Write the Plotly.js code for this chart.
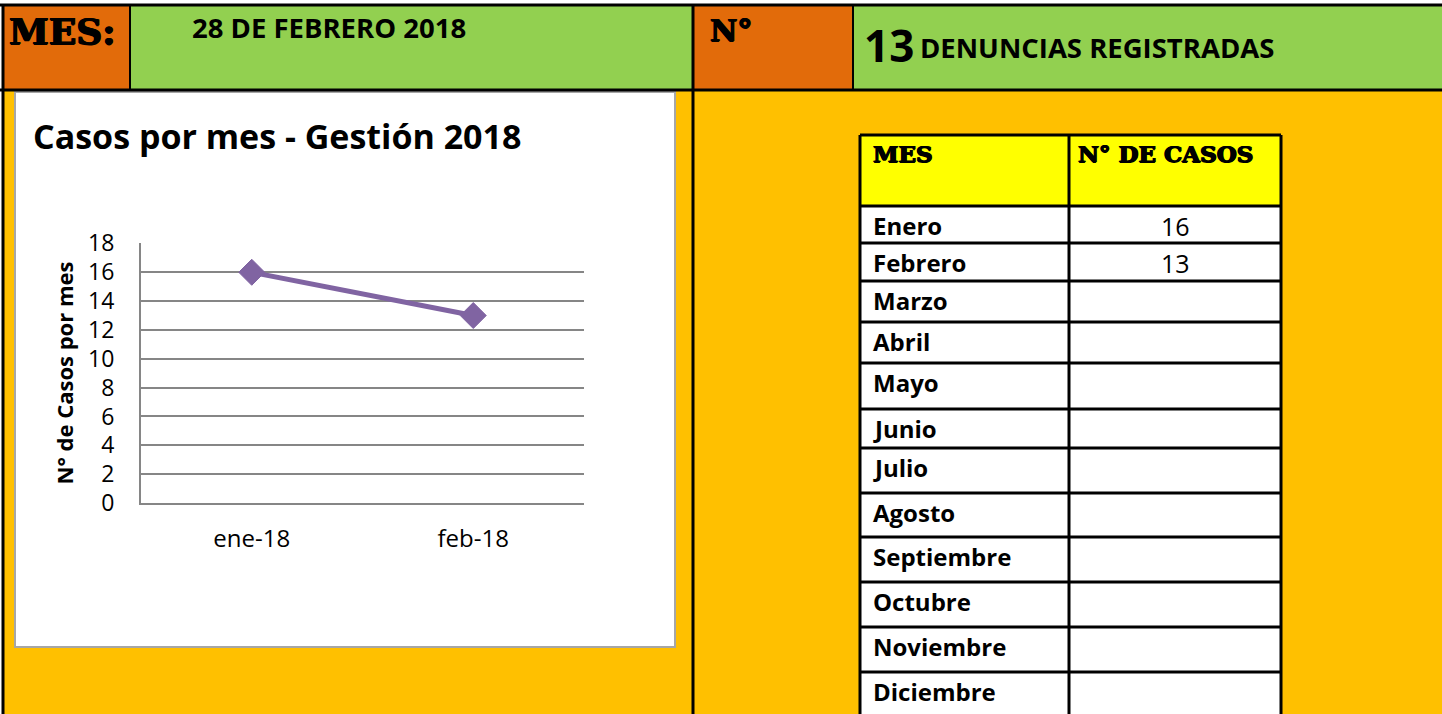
<!DOCTYPE html>
<html>
<head>
<meta charset="utf-8">
<script src="https://cdn.plot.ly/plotly-3.0.1.min.js"></script>
<style>
  html, body { margin: 0; padding: 0; background: #ffffff; }
  #chart { width: 1442px; height: 714px; }
</style>
</head>
<body>
<div id="chart"></div>
<script>
// ---------- data ----------
const chartTitle = "Casos por mes - Gestión 2018";
const yAxisTitle = "N° de Casos por mes";
const categories = ["ene-18", "feb-18"];
const casos = [16, 13];
const yTicks = [0, 2, 4, 6, 8, 10, 12, 14, 16, 18];

const headerMesLabel = "MES:";
const headerFecha = "28 DE FEBRERO 2018";
const headerNumLabel = "N°";
const headerTotal = "13";
const headerTotalText = "DENUNCIAS REGISTRADAS";

const tableHeaders = ["MES", "N° DE CASOS"];
const tableMonths = ["Enero", "Febrero", "Marzo", "Abril", "Mayo", "Junio", "Julio",
                     "Agosto", "Septiembre", "Octubre", "Noviembre", "Diciembre"];
const tableValues = ["16", "13", "", "", "", "", "", "", "", "", "", ""];

// ---------- layout helpers ----------
const W = 1442, H = 714;
const px = x => x / W;
const py = y => 1 - y / H;

const ORANGE_DARK = "#E26B0A";
const GREEN = "#92D050";
const ORANGE = "#FFC000";
const YELLOW = "#FFFF00";
const PURPLE = "#8064A2";
const GRID = "#868686";
const BODY_FONT = "'Open Sans', 'Liberation Sans', sans-serif";
const SLAB_FONT = "'DejaVu Serif', serif";
const HEAVY = "0.8px 0px 0px #000000, -0.8px 0px 0px #000000, 0px 0.6px 0px #000000";

const shapes = [];
const annotations = [];

function rect(x0, y0, x1, y1, fill, lineColor, lineWidth, layer) {
  shapes.push({
    type: "rect", xref: "paper", yref: "paper",
    x0: px(x0), x1: px(x1), y0: py(y1), y1: py(y0),
    fillcolor: fill, line: { color: lineColor || "rgba(0,0,0,0)", width: lineWidth || 0 },
    layer: layer || "below"
  });
}
function line(x0, y0, x1, y1, color, width, layer) {
  shapes.push({
    type: "line", xref: "paper", yref: "paper",
    x0: px(x0), x1: px(x1), y0: py(y0), y1: py(y1),
    line: { color: color, width: width }, layer: layer || "above"
  });
}
function text(t, x, y, size, opts) {
  opts = opts || {};
  const font = { family: opts.family || BODY_FONT, size: size, color: "#000000",
                 weight: opts.weight || "bold" };
  if (opts.shadow) font.shadow = opts.shadow;
  annotations.push({
    text: t, xref: "paper", yref: "paper", x: px(x), y: py(y),
    xanchor: opts.xanchor || "left", yanchor: "middle", showarrow: false,
    font: font
  });
}

// ---------- backgrounds ----------
rect(3, 90, W, H, ORANGE);               // body
rect(3, 5, 130, 90, ORANGE_DARK);        // MES:
rect(130, 5, 693, 90, GREEN);            // fecha
rect(693, 5, 853, 90, ORANGE_DARK);      // N°
rect(853, 5, W, 90, GREEN);              // total
rect(15, 92, 675, 647, "#FFFFFF", "#A6A6A6", 2);  // chart box

// ---------- grid borders of the sheet ----------
line(0, 5, W, 5, "#000000", 3);
line(0, 90, W, 90, "#000000", 3);
line(3, 5, 3, H, "#000000", 3);
line(130, 5, 130, 90, "#000000", 2);
line(693, 5, 693, H, "#000000", 3);
line(853, 5, 853, 90, "#000000", 2);

// ---------- header text ----------
text(headerMesLabel, 7, 31, 36, { family: SLAB_FONT, shadow: HEAVY });
text(headerFecha, 190, 28, 27.5);
text(headerNumLabel, 708, 31, 30, { family: SLAB_FONT, shadow: HEAVY });
text(headerTotal, 862, 45, 44);
text(headerTotalText, 918, 48, 27.5);

// ---------- table ----------
const tX0 = 860, tX1 = 1281, tXmid = 1069;
const tHeadTop = 135, tHeadBottom = 206;
const rowEdges = [206, 243, 281, 322, 363, 409, 448, 493, 537, 582, 627, 672, 716];
rect(tX0, tHeadTop, tX1, tHeadBottom, YELLOW);
rect(tX0, tHeadBottom, tX1, H, "#FFFFFF");
line(tX0, tHeadTop, tX1, tHeadTop, "#000000", 3);
line(tX0, tHeadTop, tX0, H, "#000000", 3);
line(tX1, tHeadTop, tX1, H, "#000000", 3);
line(tXmid, tHeadTop, tXmid, H, "#000000", 3);
line(tX0, tHeadBottom, tX1, tHeadBottom, "#000000", 3);
text(tableHeaders[0], 871, 153, 23, { family: SLAB_FONT, shadow: HEAVY });
text(tableHeaders[1], 1076, 153, 23, { family: SLAB_FONT, shadow: HEAVY });
tableMonths.forEach((m, i) => {
  const top = rowEdges[i];
  if (i > 0) line(tX0, top, tX1, top, "#000000", 3);
  text(m, 871, top + 19.5, 24);
  if (tableValues[i] !== "") {
    text(tableValues[i], (tXmid + tX1) / 2, top + 19.5, 25, { xanchor: "center", weight: "normal" });
  }
});

// ---------- chart ----------
const plotLeft = 141, plotRight = 584, plotTop = 243, plotBottom = 503;

const trace = {
  type: "scatter", mode: "lines+markers",
  x: categories, y: casos,
  line: { color: PURPLE, width: 5 },
  marker: { symbol: "diamond", size: 20, color: PURPLE, line: { color: PURPLE, width: 1 } },
  hoverinfo: "x+y", showlegend: false, cliponaxis: false
};

const layout = {
  width: W, height: H,
  margin: { l: 0, r: 0, t: 0, b: 0, pad: 0 },
  paper_bgcolor: "#FFFFFF", plot_bgcolor: "rgba(0,0,0,0)",
  showlegend: false,
  title: {
    text: "<b>" + chartTitle + "</b>",
    x: px(33), xanchor: "left", xref: "paper",
    y: py(137), yanchor: "middle", yref: "paper",
    font: { family: BODY_FONT, size: 34, color: "#000000" }
  },
  xaxis: {
    domain: [px(plotLeft), px(plotRight)],
    type: "category", range: [-0.5, 1.5],
    showgrid: false, zeroline: false,
    showline: true, linecolor: GRID, linewidth: 2,
    ticks: "", ticklabelstandoff: 13,
    tickfont: { family: BODY_FONT, size: 24, color: "#000000" },
    fixedrange: true
  },
  yaxis: {
    domain: [py(plotBottom), py(plotTop)],
    range: [0, 18.03], tickvals: yTicks, ticktext: yTicks.map(String),
    showgrid: true, gridcolor: GRID, gridwidth: 2,
    zeroline: false, showline: true, linecolor: GRID, linewidth: 2,
    ticks: "", ticklabelstandoff: 20,
    tickfont: { family: BODY_FONT, size: 23, color: "#000000" },
    title: { text: "<b>" + yAxisTitle + "</b>", standoff: 8,
             font: { family: BODY_FONT, size: 22, color: "#000000" } },
    fixedrange: true
  },
  shapes: shapes,
  annotations: annotations
};

Plotly.newPlot("chart", [trace], layout, { displayModeBar: false, staticPlot: true });
</script>
</body>
</html>
